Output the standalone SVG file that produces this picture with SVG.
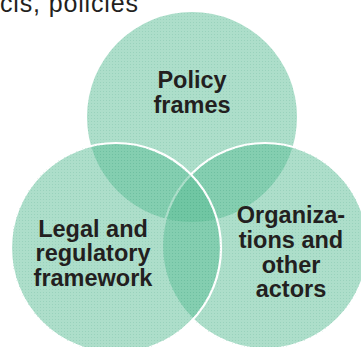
<svg xmlns="http://www.w3.org/2000/svg" width="361" height="347" viewBox="0 0 361 347">
  <style>
    .circ { fill: #5bbd95; fill-opacity: 0.5; }
    .edge { stroke: #ffffff; stroke-width: 2.2; }
    .dots { fill: url(#dots); }
    .lbl { font-family: "Liberation Sans", Arial, sans-serif; font-weight: bold; font-size: 23.5px; fill: #231f20; text-anchor: middle; }
    .top { font-family: "Liberation Sans", Arial, sans-serif; font-size: 25px; fill: #231f20; }
  </style>
  <defs>
    <pattern id="dots" width="3" height="3" patternUnits="userSpaceOnUse">
      <rect x="1" y="1" width="1" height="1" fill="#3d9c78" fill-opacity="0.18"/>
    </pattern>
  </defs>
  <rect width="361" height="347" fill="#ffffff"/>
  <text class="top" x="0" y="12" textLength="138" lengthAdjust="spacing">cis, policies</text>
  <g id="policy-frames">
    <circle class="circ" cx="192" cy="117" r="105"/>
    <circle class="dots" cx="192" cy="117" r="105"/>
  </g>
  <g id="organizations">
    <circle class="circ edge" cx="265" cy="246" r="103"/>
    <circle class="dots" cx="265" cy="246" r="103"/>
  </g>
  <g id="legal-framework">
    <circle class="circ edge" cx="116" cy="248" r="105"/>
    <circle class="dots" cx="116" cy="248" r="105"/>
  </g>
  <g id="connectors"></g>
  <g id="labels">
    <text class="lbl" x="192" y="88">Policy</text>
    <text class="lbl" x="192" y="112.5">frames</text>
    <text class="lbl" x="93" y="236.5">Legal and</text>
    <text class="lbl" x="93" y="261">regulatory</text>
    <text class="lbl" x="93" y="285.5">framework</text>
    <text class="lbl" x="291" y="223">Organiza-</text>
    <text class="lbl" x="291" y="248">tions and</text>
    <text class="lbl" x="291" y="272.5">other</text>
    <text class="lbl" x="291" y="297">actors</text>
  </g>
</svg>
